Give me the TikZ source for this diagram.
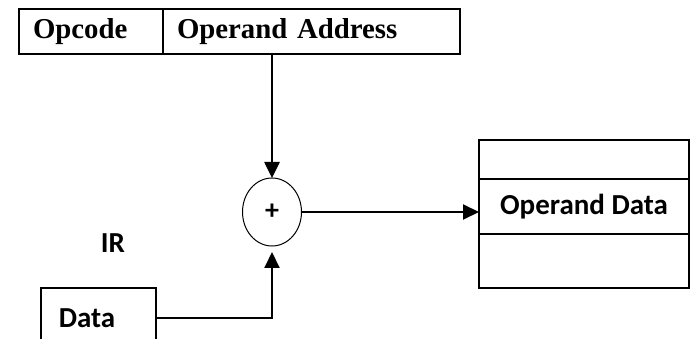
\documentclass[tikz,border=0pt]{standalone}
\usepackage{fontspec}
\setmainfont{Liberation Serif}
\newfontfamily\calib{Carlito}
\usetikzlibrary{arrows.meta,shapes.geometric}
\begin{document}
\begin{tikzpicture}[x=1pt,y=-1pt,
  cell/.style={draw, line width=1.3pt, inner sep=0pt, outer sep=0pt},
  serifl/.style={font=\fontsize{28.8}{30}\selectfont\bfseries},
  sansl/.style={font=\calib\fontsize{29}{31}\selectfont\bfseries},
  flow/.style={line width=2pt, -{Triangle[width=15pt,length=16pt]}}]
\useasboundingbox (0,0) rectangle (691,339);

% instruction register fields
\node[cell, serifl, minimum width=144pt, minimum height=45pt, text width=116pt, align=left]
  (opcode) at (91,31.5) {Opcode};
\node[cell, serifl, minimum width=297pt, minimum height=45pt, text width=269pt, align=left]
  (addr) at (311.5,31.5) {Operand Address};

% adder
\node[cell, ellipse, line width=1pt, minimum width=59pt, minimum height=68pt]
  (adder) at (272,212) {};
\node[font=\calib\fontsize{28}{30}\selectfont\bfseries] (plus) at (272,212) {+};

% memory rows
\node[cell, minimum width=210pt, minimum height=39pt] (memtop) at (584,159.5) {};
\node[cell, sansl, minimum width=210pt, minimum height=55pt] (memmid) at (584,206.5) {Operand Data};
\node[cell, minimum width=210pt, minimum height=54pt] (membot) at (584,261) {};

% IR label and data register
\node[sansl] (ir) at (113,243) {IR};
\node[minimum width=115pt, minimum height=60pt, inner sep=0pt, outer sep=0pt, anchor=north west]
  (databox) at (41,288) {};
\draw[line width=1.3pt] (databox.south west) -- (databox.north west)
  -- (databox.north east) -- (databox.south east);
\node[sansl] (datatxt) at (87,318) {Data};

% connectors
\draw[flow, line width=2.6pt] (adder.north |- addr.south) -- (adder.north);
\draw[flow] (adder.east) -- (adder.east -| memmid.west);
\draw[flow, shorten >=6pt] (databox.east) -| (adder.south);
\end{tikzpicture}
\end{document}
